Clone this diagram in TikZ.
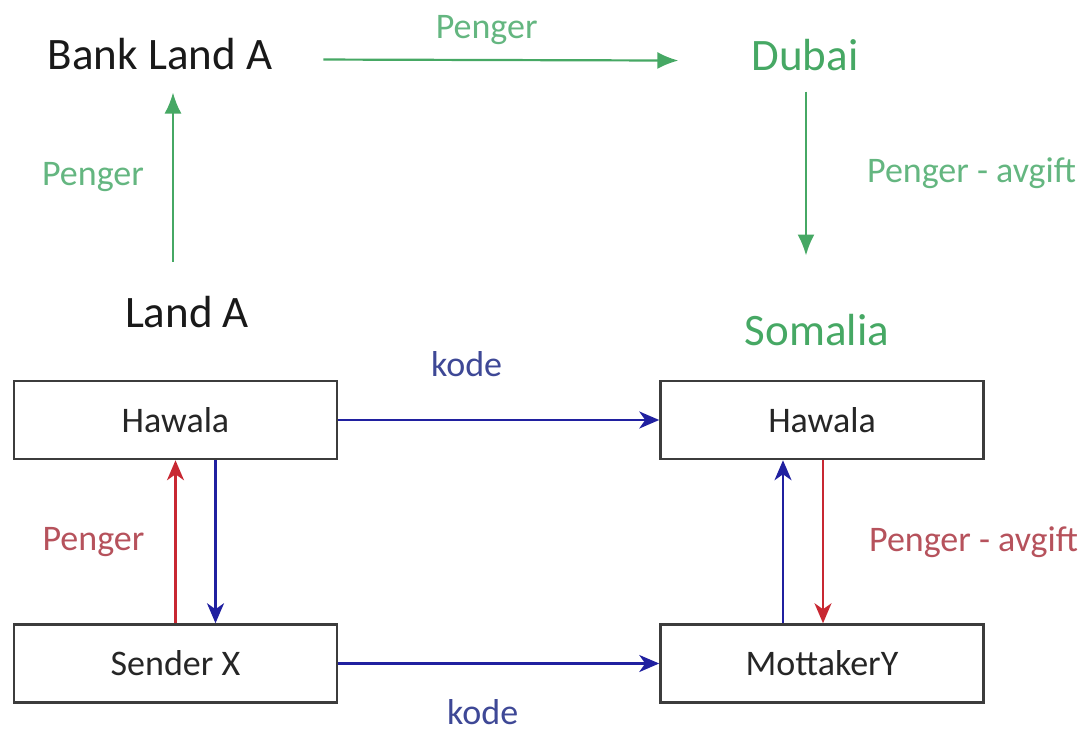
\documentclass[tikz,border=0pt]{standalone}
\usepackage{fontspec}
\setmainfont{Carlito}
\usetikzlibrary{arrows.meta}

\definecolor{grnmain}{RGB}{70,168,100}
\definecolor{grnlabel}{RGB}{100,182,128}
\definecolor{bluearrow}{RGB}{32,32,160}
\definecolor{bluelabel}{RGB}{62,72,150}
\definecolor{redarrow}{RGB}{200,40,50}
\definecolor{redlabel}{RGB}{182,82,92}
\definecolor{boxline}{RGB}{60,60,60}

\begin{document}
\begin{tikzpicture}[x=1pt, y=-1pt, line cap=butt]
        \tikzstyle{place}=[inner sep=0pt, anchor=base, font=\fontsize{45}{54}\selectfont]
        \tikzstyle{lbl}=[inner sep=0pt, font=\fontsize{36}{42}\selectfont]
        \tikzstyle{layer}=[rectangle, draw=boxline, line width=2.5pt, fill=white, minimum width=323pt, minimum height=78pt, inner sep=0pt, text=black!85, font=\fontsize{36}{42}\selectfont]
        \tikzstyle{money}=[draw=grnmain, line width=2.2pt, -{Latex[length=21pt,width=17pt]}]
        \tikzstyle{code}=[draw=bluearrow, line width=2.6pt, -{Stealth[length=20pt,width=17pt,inset=6pt]}]
        \tikzstyle{cash}=[draw=redarrow, line width=2.2pt, -{Stealth[length=20pt,width=17pt,inset=6pt]}]

        \useasboundingbox (0,0) rectangle (1082,735);

        % top level: banks
        \node[place, text=black!90] (bank) at (160,70) {Bank Land A};
        \node[place, text=grnmain] (dubai) at (805,71) {Dubai};
        \node[place, text=black!90] (landA) at (187,328) {Land A};
        \node[place, text=grnmain] (somalia) at (817,345) {Somalia};

        % hawala boxes
        \node[layer] (hawalaA) at (175.5,420) {Hawala};
        \node[layer] (hawalaB) at (822,420) {Hawala};
        \node[layer] (sender) at (175.5,663.5) {Sender X};
        \node[layer] (mottaker) at (822,663.5) {MottakerY};

        % green money route
        \draw[money] ([xshift=-14pt,yshift=35pt]landA.north) -- ([xshift=13pt,yshift=-22pt]bank.south)
            node[lbl, text=grnlabel, midway, left=28pt] {Penger};
        \draw[money] ([xshift=51pt,yshift=-5pt]bank.east) -- ([xshift=-73pt,yshift=-5pt]dubai.west)
            node[lbl, text=grnlabel, pos=0.46, above=14pt] {Penger};
        \draw[money] ([xshift=1pt,yshift=-20pt]dubai.south) -- ([xshift=-11pt,yshift=58pt]somalia.north)
            node[lbl, text=grnlabel, midway, right=60pt] {Penger - avgift};

        % hawala route
        \draw[code] (hawalaA.east) -- (hawalaB.west)
            node[lbl, text=bluelabel, pos=0.4, above=42pt] {kode};
        \draw[code] (sender.east) -- (mottaker.west)
            node[lbl, text=bluelabel, pos=0.45, below=35pt] {kode};
        \draw[cash] (sender.north) -- (hawalaA.south)
            node[lbl, text=redlabel, midway, left=30pt] {Penger};
        \draw[code] ([xshift=40pt]hawalaA.south) -- ([xshift=40pt]sender.north);
        \draw[code] ([xshift=-39pt]mottaker.north) -- ([xshift=-39pt]hawalaB.south);
        \draw[cash] ([xshift=1pt]hawalaB.south) -- ([xshift=1pt]mottaker.north)
            node[lbl, text=redlabel, midway, right=45pt] {Penger - avgift};
    \end{tikzpicture}
\end{document}
